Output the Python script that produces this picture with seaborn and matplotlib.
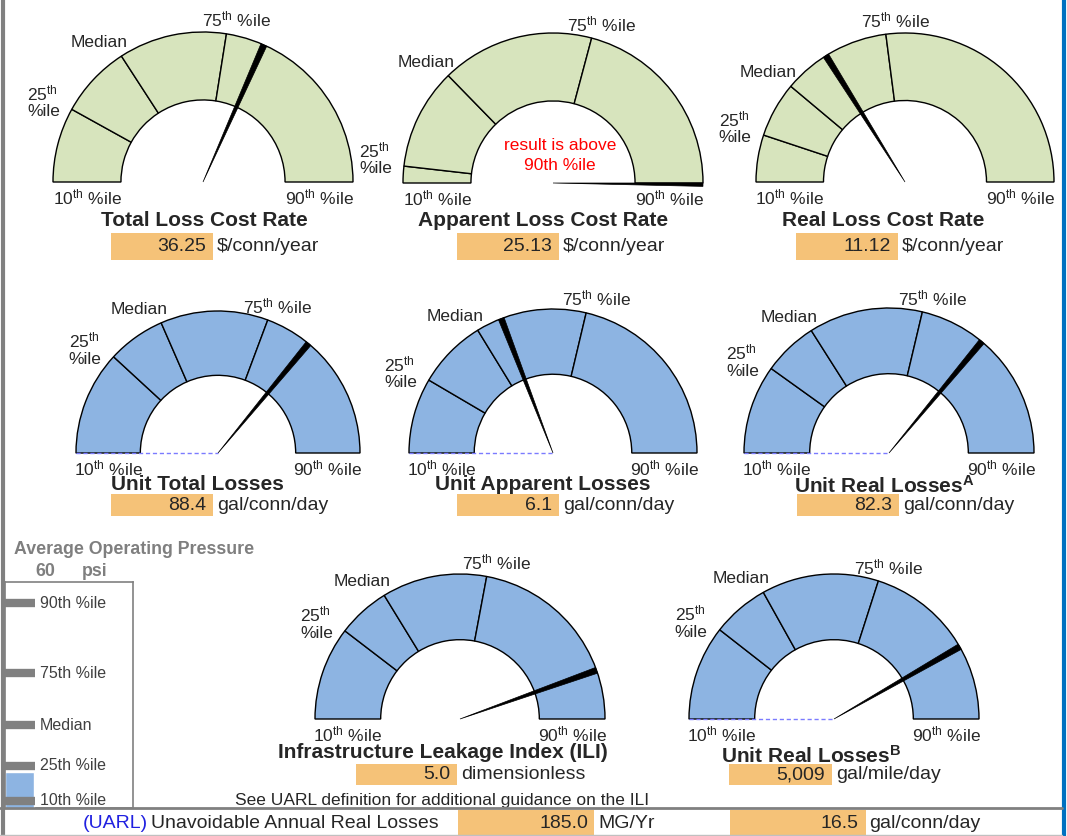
import matplotlib
matplotlib.use("Agg")
import matplotlib.pyplot as plt
from matplotlib.patches import Wedge, Rectangle
import numpy as np
import seaborn as sns

# --- gauge data (positions on the gauge scale: 0 = 10th %ile, 1 = 90th %ile) ---
titles = ["Total Loss Cost Rate", "Apparent Loss Cost Rate", "Real Loss Cost Rate",
          "Unit Total Losses", "Unit Apparent Losses", "Unit Real Losses$^{A}$",
          "Infrastructure Leakage Index (ILI)", "Unit Real Losses$^{B}$"]
p25_pos = [0.161, 0.036, 0.102, 0.237, 0.169, 0.198, 0.208, 0.211]
median_pos = [0.317, 0.254, 0.222, 0.369, 0.325, 0.320, 0.325, 0.338]
p75_pos = [0.550, 0.583, 0.459, 0.614, 0.574, 0.574, 0.559, 0.599]
result_pos = [0.633, 1.05, 0.322, 0.720, 0.383, 0.721, 0.891, 0.834]
values = ["36.25", "25.13", "11.12", "88.4", "6.1", "82.3", "5.0", "5,009"]
units = [r"\$/conn/year", r"\$/conn/year", r"\$/conn/year",
         "gal/conn/day", "gal/conn/day", "gal/conn/day",
         "dimensionless", "gal/mile/day"]

# --- pressure panel data ---
pressure_labels = ["10th %ile", "25th %ile", "Median", "75th %ile", "90th %ile"]
pressure_pctl = [55, 61, 68, 77, 89]
pressure_value = 60

# --- UARL line ---
uarl_total = "185.0"
uarl_total_unit = "MG/Yr"
uarl_per_conn = "16.5"
uarl_per_conn_unit = "gal/conn/day"

# --- layout (pixels) ---
W, H = 1067, 836
centers = [(203, 182), (553, 183), (905, 182), (218, 453), (553, 453), (889, 453), (460, 719), (834, 719)]
radii = [150, 150, 149, 142, 144, 145, 145, 145]
inner_ratio = 0.547
title_xy = [(204, 221), (543, 221), (883, 221), (197, 484), (543, 484), (884, 486), (443, 752), (811, 756)]
boxes = [(111, 213, 233, 260), (457, 559, 233, 260), (796, 898, 233, 260),
         (111, 213, 494, 516), (457, 559, 494, 516), (797, 899, 494, 516),
         (356, 457, 764, 785), (729, 832, 764, 785)]
dashed_base = [False, False, False, True, True, True, False, True]
green, blue, orange = "#D7E4BD", "#8DB4E2", "#F5C278"

sns.set_theme(style="white")
plt.rcParams['font.family'] = ['Liberation Sans', 'DejaVu Sans']
plt.rcParams['mathtext.fontset'] = 'custom'
plt.rcParams['mathtext.rm'] = 'Liberation Sans'
plt.rcParams['mathtext.default'] = 'regular'

fig = plt.figure(figsize=(W / 100, H / 100), dpi=100)
ax = fig.add_axes([0, 0, 1, 1])
ax.set_xlim(0, W)
ax.set_ylim(H, 0)
ax.axis('off')

LBL = 12.5


def edge_point(cx, cy, r, pos):
    a = np.radians(pos * 180)
    return cx - r * np.cos(a), cy - r * np.sin(a)


def draw_gauge(i):
    cx, cy = centers[i]
    r = radii[i]
    rin = r * inner_ratio
    fill = green if i < 3 else blue
    bounds = [0, p25_pos[i], median_pos[i], p75_pos[i], 1]
    for b0, b1 in zip(bounds[:-1], bounds[1:]):
        ax.add_patch(Wedge((cx, cy), r, 180 + b0 * 180, 180 + b1 * 180, width=r - rin,
                           facecolor=fill, edgecolor='black', lw=1, zorder=2))
    if dashed_base[i]:
        ax.plot([cx - r, cx], [cy, cy], color='#7B7BFF', lw=1, ls=(0, (3, 2)), zorder=3)

    # needle
    res = result_pos[i]
    if res >= 1:
        t1, t2 = 360, 361.3
        ax.text(cx + 7, cy - 38, "result is above", color='red', fontsize=LBL, ha='center', va='center')
        ax.text(cx + 7, cy - 17, "90th %ile", color='red', fontsize=LBL, ha='center', va='center')
    else:
        t1, t2 = 180 + res * 180 - 1.2, 180 + res * 180 + 1.2
    ax.add_patch(Wedge((cx, cy), r, t1, t2, facecolor='black', edgecolor='black', lw=0.5, zorder=4))

    # percentile labels
    ax.text(cx - (r + rin) / 2, cy + 6, "10$^{th}$ %ile", fontsize=LBL, ha='center', va='top')
    ax.text(cx + (r + rin) / 2, cy + 6, "90$^{th}$ %ile", fontsize=LBL, ha='center', va='top')
    bx, by = edge_point(cx, cy, r, p25_pos[i])
    ax.text(bx - 12, by - 8, "25$^{th}$\n%ile", fontsize=LBL, ha='right', va='center',
            multialignment='left', linespacing=1.1)
    bx, by = edge_point(cx, cy, r, median_pos[i])
    ax.text(bx + 6, by - 6, "Median", fontsize=LBL, ha='right', va='bottom')
    bx, by = edge_point(cx, cy, r, p75_pos[i])
    ax.text(bx + 10, by - 4, "75$^{th}$ %ile", fontsize=LBL, ha='center', va='bottom')

    # title and value
    tx, ty = title_xy[i]
    ax.text(tx, ty, titles[i], fontsize=15, fontweight='bold', ha='center', va='center')
    x0, x1, y0, y1 = boxes[i]
    ax.add_patch(Rectangle((x0, y0), x1 - x0, y1 - y0, facecolor=orange, edgecolor='none', zorder=1))
    ax.text(x1 - 7, (y0 + y1) / 2, values[i], fontsize=14, ha='right', va='center')
    ax.text(x1 + 4, (y0 + y1) / 2, units[i], fontsize=14, ha='left', va='center')


for i in range(len(titles)):
    draw_gauge(i)

ax.text(270 + 172, 800, "See UARL definition for additional guidance on the ILI",
        fontsize=12.5, ha='center', va='center')

# frame lines
ax.plot([3, 3], [0, H], color='#808080', lw=3, zorder=6)
ax.plot([1064, 1064], [0, H], color='#0070C0', lw=3, zorder=6)
ax.plot([0, 1062], [808, 808], color='#808080', lw=2, zorder=6)
ax.plot([0, 1062], [835, 835], color='#C0C0C0', lw=1, zorder=6)

# UARL line
ax.text(83, 824, "(UARL)", color='#2020E0', fontsize=14, ha='left', va='center')
ax.text(151, 824, "Unavoidable Annual Real Losses", fontsize=14, ha='left', va='center')
ax.add_patch(Rectangle((458, 810), 136, 26, facecolor=orange, edgecolor='none'))
ax.text(588, 824, uarl_total, fontsize=14, ha='right', va='center')
ax.text(598, 824, uarl_total_unit, fontsize=14, ha='left', va='center')
ax.add_patch(Rectangle((730, 810), 136, 26, facecolor=orange, edgecolor='none'))
ax.text(858, 824, uarl_per_conn, fontsize=14, ha='right', va='center')
ax.text(869, 824, uarl_per_conn_unit, fontsize=14, ha='left', va='center')

# pressure panel
ax.text(14, 549, "Average Operating Pressure", fontsize=12.8, fontweight='bold', color='#7F7F7F',
        ha='left', va='center')
ax.text(35, 572, str(pressure_value), fontsize=12.8, fontweight='bold', color='#7F7F7F', ha='left', va='center')
ax.text(82, 572, "psi", fontsize=12.8, fontweight='bold', color='#7F7F7F', ha='left', va='center')

px0, px1, py0, py1 = 5, 133, 582, 808
axp = fig.add_axes([px0 / W, 1 - py1 / H, (px1 - px0) / W, (py1 - py0) / H])
sns.barplot(x=["pressure"], y=[pressure_value], ax=axp, color=blue, width=1.0, saturation=1)
axp.hlines(pressure_pctl, -0.5, 0.53, colors='#808080', lw=6, zorder=5)
for lab, v in zip(pressure_labels, pressure_pctl):
    axp.text(0.7, v, lab, fontsize=11.5, color='#404040', ha='left', va='center')
axp.set_xlim(-0.5, 3.9)
axp.set_ylim(53.74, 92.7)
axp.set_xticks([])
axp.set_yticks([])
axp.set_xlabel("")
axp.set_ylabel("")
for s in axp.spines.values():
    s.set_color('#808080')
    s.set_linewidth(1.2)
axp.patch.set_alpha(0)

fig.savefig("out.png", dpi=100)
